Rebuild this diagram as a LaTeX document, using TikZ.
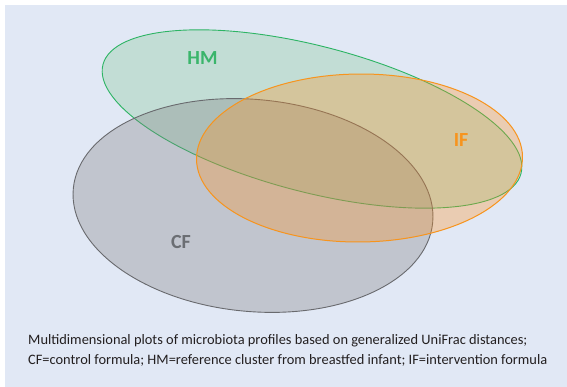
\documentclass[tikz,border=0pt]{standalone}
\usepackage{fontspec}
\setmainfont{Carlito}
\definecolor{bgblue}{RGB}{225,232,245}
\definecolor{hmfill}{RGB}{139,203,156}
\definecolor{hmline}{RGB}{45,180,100}
\definecolor{hmtext}{RGB}{58,181,107}
\definecolor{cffill}{RGB}{128,128,128}
\definecolor{cfline}{RGB}{105,106,110}
\definecolor{cftext}{RGB}{107,110,115}
\definecolor{iffill}{RGB}{255,142,25}
\definecolor{ifline}{RGB}{247,148,29}
\definecolor{captext}{RGB}{35,31,32}
\tikzset{
  grouplabel/.style={font=\fontsize{20}{22}\selectfont\bfseries, inner sep=0pt},
  captionline/.style={font=\fontsize{14.4}{16}\selectfont, text=captext, inner sep=0pt, anchor=base west}
}
\begin{document}
\begin{tikzpicture}[x=1pt,y=-1pt]
\useasboundingbox (0,0) rectangle (567,387);
\fill[white] (0,0) rectangle (567,387);
\fill[bgblue] (5,5) rectangle (567,387);
% HM
\fill[hmfill, fill opacity=0.35, rotate around={-14.6:(312,119)}] (312,119) ellipse [x radius=216pt, y radius=73pt];
\draw[hmline, line width=0.9pt, rotate around={-14.6:(312,119)}] (312,119) ellipse [x radius=216pt, y radius=73pt];
% CF
\fill[cffill, fill opacity=0.33, rotate around={-5.4:(253,205.5)}] (253,205.5) ellipse [x radius=180.5pt, y radius=106pt];
\draw[cfline, line width=0.9pt, rotate around={-5.4:(253,205.5)}] (253,205.5) ellipse [x radius=180.5pt, y radius=106pt];
% IF
\fill[iffill, fill opacity=0.30, rotate around={0.4:(359.5,158)}] (359.5,158) ellipse [x radius=163pt, y radius=84pt];
\draw[ifline, line width=1pt, rotate around={0.4:(359.5,158)}] (359.5,158) ellipse [x radius=163pt, y radius=84pt];
% labels
\node[grouplabel, text=hmtext] (hm) at (202.5,58.5) {HM};
\node[grouplabel, text=ifline] (if) at (461,140) {IF};
\node[grouplabel, text=cftext] (cf) at (181,242) {CF};
% caption
\node[captionline] (cap1) at (28,344) {Multidimensional plots of microbiota profiles based on generalized UniFrac distances;};
\node[captionline] (cap2) at (28,364) {CF=control formula; HM=reference cluster from breastfed infant; IF=intervention formula};
\end{tikzpicture}
\end{document}
